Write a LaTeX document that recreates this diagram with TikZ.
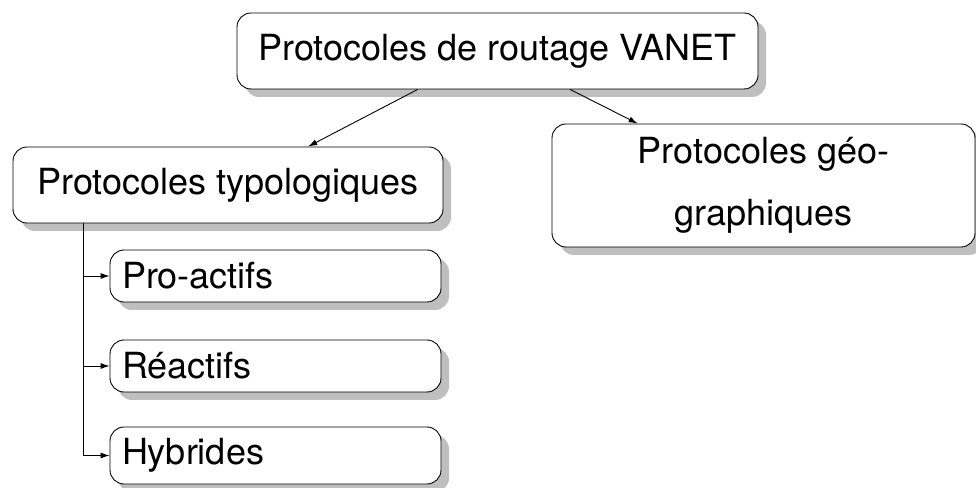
\documentclass[tikz,border=0pt]{standalone}
\usepackage{fontspec}
\setmainfont{TeX Gyre Heros}
\usetikzlibrary{calc,shadows,arrows.meta}

\begin{document}
\begin{tikzpicture}[x=1pt,y=1pt,
    box/.style={draw, rounded corners=14pt, fill=white, line width=0.9pt,
      drop shadow={shadow xshift=8pt, shadow yshift=-8pt, fill=black!50, opacity=0.5},
      font=\fontsize{36}{62}\selectfont, inner sep=0pt, align=center},
    subbox/.style={box, text width=307pt, inner xsep=12pt, align=left, minimum height=52pt},
    link/.style={line width=0.9pt, -{Latex[length=9pt,width=6pt]}}]
  \useasboundingbox (0,0) rectangle (976,487);

  \node [box, minimum width=521pt, minimum height=76pt] (root) at (497.5,436) {Protocoles de routage VANET};
  \node [box, minimum width=430pt, minimum height=76pt] (typo) at (228,302) {Protocoles typologiques};
  \node [box, minimum width=423pt, minimum height=123pt] (geo) at (763.5,301.5) {Protocoles géo-\\graphiques};

  \node [subbox] (pro) at (275.5,211) {Pro-actifs};
  \node [subbox] (reac) at (275.5,121) {Réactifs};
  \node [subbox, minimum height=57pt] (hyb) at (275.5,31.5) {Hybrides};

  \draw [link] ($(root.south west)!0.347!(root.south east)$) -- ($(typo.north west)!0.686!(typo.north east)$);
  \draw [link] ($(root.south west)!0.639!(root.south east)$) -- ($(geo.north west)!0.203!(geo.north east)$);

  \coordinate (stem) at ($(typo.south west)+(71,0)$);
  \draw [link] (stem) |- (hyb.west);
  \draw [link] (stem |- pro.west) -- (pro.west);
  \draw [link] (stem |- reac.west) -- (reac.west);
\end{tikzpicture}
\end{document}
